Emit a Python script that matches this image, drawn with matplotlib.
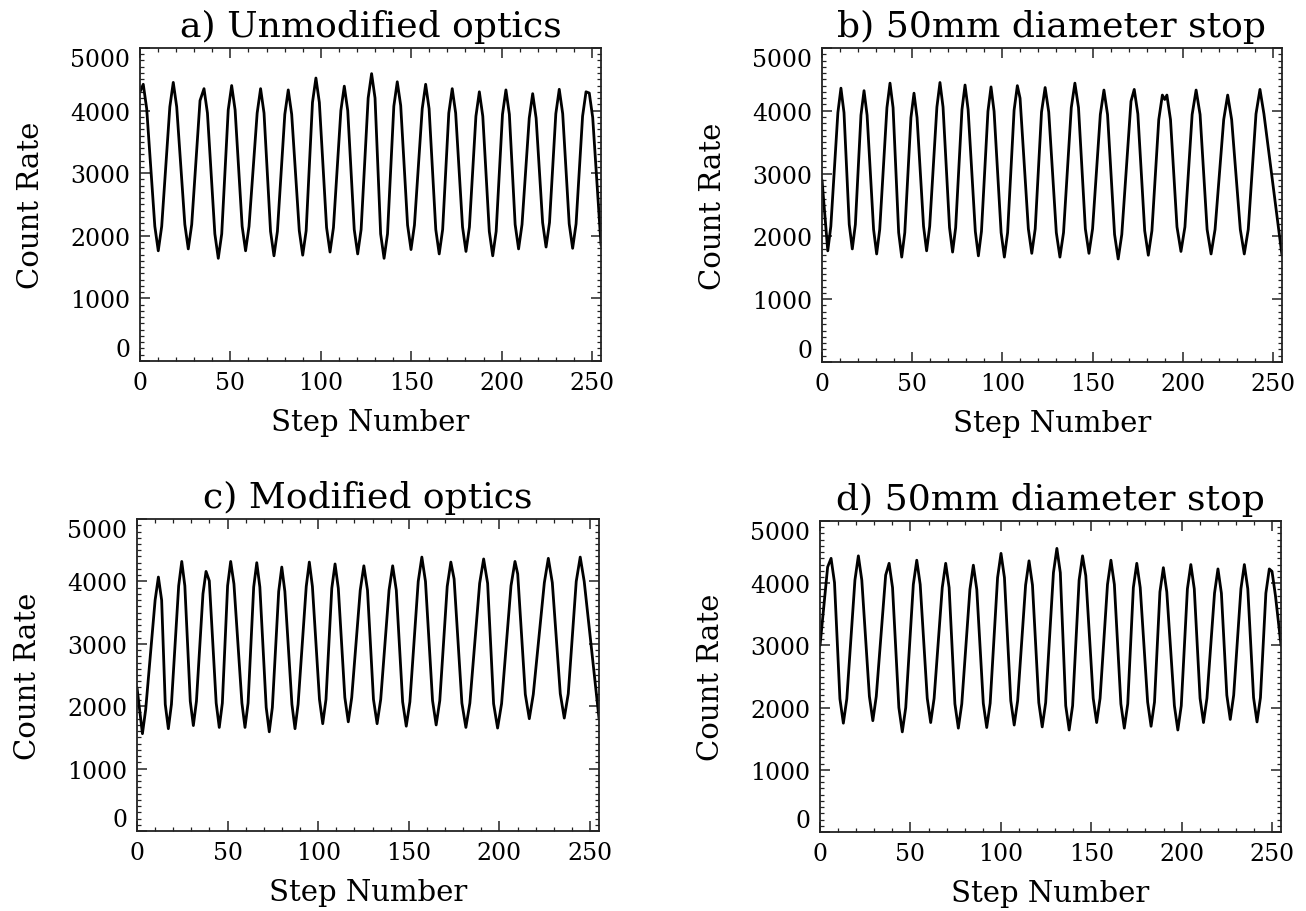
"""
Fringe scans: count rate vs. step number for four optics set-ups
"""
import matplotlib
matplotlib.use('Agg')
import matplotlib.pyplot as plt
from matplotlib.ticker import MultipleLocator

plt.rcParams['font.family'] = ['DejaVu Serif']

# values: extrema, shoulders and the flanks next to them
steps_a = [0, 1.8, 3.7, 8.2, 10.1, 12.0, 16.5, 18.4, 20.3, 24.8, 26.7, 28.6, 33.2, 35.4, 37.3,
           41.4, 43.3, 45.2, 48.8, 50.7, 52.6, 56.5, 58.4, 60.3, 64.8, 66.7, 68.6, 72.2, 74.1,
           76.0, 80.1, 82.0, 83.9, 88.1, 90.0, 91.9, 95.4, 97.3, 99.2, 103.2, 105.1, 107.0,
           111.1, 113.0, 114.9, 118.5, 120.4, 122.3, 126.2, 128.1, 130.0, 133.1, 135.0, 136.9,
           140.4, 142.3, 144.2, 148.0, 149.9, 151.8, 156.1, 158.0, 159.9, 163.6, 165.5, 167.4,
           170.8, 172.7, 174.6, 178.4, 180.3, 182.2, 185.8, 187.7, 189.6, 193.2, 195.1, 197.0,
           200.5, 202.4, 204.3, 207.5, 209.4, 211.3, 215.3, 217.2, 219.1, 222.7, 224.6, 226.5,
           230.0, 231.9, 233.8, 237.4, 239.3, 241.2, 244.8, 246.7, 248.5, 250.4, 255]
counts_a = [4300, 4420, 4030, 2150, 1760, 2150, 4060, 4450, 4060, 2180, 1790, 2180, 4160, 4350, 3960,
            2030, 1640, 2030, 4010, 4400, 4010, 2150, 1760, 2150, 3960, 4350, 3960, 2070, 1680,
            2070, 3940, 4330, 3940, 2080, 1690, 2080, 4130, 4520, 4130, 2130, 1740, 2130,
            4000, 4390, 4000, 2100, 1710, 2100, 4200, 4590, 4200, 2030, 1640, 2030,
            4070, 4460, 4080, 2170, 1780, 2170, 4030, 4420, 4030, 2100, 1710, 2100,
            3960, 4350, 3960, 2140, 1750, 2140, 3910, 4300, 3910, 2070, 1680, 2070,
            3940, 4330, 3940, 2180, 1790, 2180, 3880, 4270, 3880, 2210, 1820, 2210,
            3950, 4340, 3950, 2190, 1800, 2190, 3910, 4300, 4280, 3890, 1850]

steps_b = [0, 3.2, 4.9, 8.8, 10.5, 12.2, 15.1, 16.8, 18.5, 21.6, 23.3, 25.0, 28.6, 30.3, 32.0,
           36.0, 37.7, 39.4, 42.5, 44.2, 45.9, 49.3, 51.0, 52.7, 56.3, 58.0, 59.7, 63.7, 65.4,
           67.1, 70.7, 72.4, 74.1, 77.6, 79.3, 81.0, 85.0, 86.7, 88.4, 92.0, 93.7, 95.4,
           99.3, 101.1, 102.9, 106.5, 108.3, 109.8, 114.4, 116.3, 118.2, 121.7, 123.7, 125.7,
           129.9, 131.9, 133.9, 138.2, 140.2, 142.2, 146.0, 148.0, 150.0, 154.3, 156.3, 158.3,
           162.2, 164.2, 166.2, 171.3, 173.1, 175.1, 178.9, 180.9, 182.9, 186.7, 188.7, 190.0,
           191.2, 193.2, 196.8, 199.0, 201.2, 205.2, 207.4, 209.6, 213.5, 215.7, 217.9,
           222.7, 224.9, 227.1, 231.9, 234.1, 236.3, 240.6, 242.8, 245.0, 255]
counts_b = [2900, 1770, 2160, 3970, 4360, 3970, 2190, 1800, 2190, 3930, 4320, 3930, 2110, 1720, 2110,
            4050, 4440, 4050, 2060, 1670, 2060, 3890, 4280, 3890, 2160, 1770, 2160, 4060, 4450,
            4060, 2140, 1750, 2140, 4020, 4410, 4020, 2080, 1690, 2080, 3990, 4380, 3990,
            2060, 1670, 2060, 4010, 4400, 4200, 2120, 1730, 2120, 3980, 4370, 3980,
            2060, 1670, 2060, 4050, 4440, 4050, 2120, 1730, 2120, 3940, 4330, 3940,
            2030, 1640, 2030, 4150, 4340, 3950, 2090, 1700, 2090, 3860, 4250, 4180,
            4250, 3860, 2150, 1760, 2150, 3940, 4330, 3940, 2110, 1720, 2110,
            3860, 4250, 3860, 2110, 1720, 2110, 3950, 4340, 3950, 1700]

steps_c = [0, 3.0, 4.8, 10.0, 11.8, 13.6, 15.6, 17.3, 19.0, 23.0, 24.7, 26.4, 29.4, 31.1, 32.8,
           36.4, 38.1, 39.9, 43.7, 45.4, 47.1, 50.0, 51.7, 53.5, 57.9, 59.6, 61.3, 64.4, 66.1,
           67.8, 71.3, 73.0, 74.7, 78.2, 79.9, 81.6, 85.5, 87.2, 88.9, 93.4, 95.1, 96.8,
           100.7, 102.5, 104.3, 107.5, 109.3, 111.1, 114.7, 116.6, 118.5, 123.2, 125.2, 127.2,
           130.5, 132.5, 134.5, 139.1, 141.1, 143.1, 146.6, 148.6, 150.6, 155.2, 157.2, 159.2,
           163.1, 165.1, 167.1, 171.2, 173.2, 175.0, 179.3, 181.5, 183.7, 189.1, 191.3, 193.5,
           196.8, 199.0, 201.2, 206.4, 208.6, 210.1, 214.3, 216.5, 218.7, 224.8, 227.0, 229.2,
           233.6, 235.8, 238.0, 242.4, 244.6, 246.8, 255]
counts_c = [2300, 1560, 1950, 3700, 4070, 3700, 2030, 1640, 2030, 3930, 4320, 3930, 2080, 1690, 2080,
            3800, 4160, 4010, 2050, 1660, 2050, 3930, 4320, 3960, 2050, 1660, 2050, 3910, 4300,
            3910, 1980, 1590, 1980, 3840, 4230, 3840, 2030, 1640, 2030, 3920, 4310, 3920,
            2110, 1720, 2110, 3890, 4280, 3890, 2140, 1750, 2140, 3860, 4250, 3860,
            2110, 1720, 2110, 3860, 4250, 3860, 2070, 1680, 2070, 4000, 4390, 4000,
            2090, 1700, 2090, 3920, 4310, 4040, 2050, 1660, 2050, 3970, 4360, 3970,
            2040, 1650, 2040, 3930, 4320, 4120, 2190, 1800, 2190, 3980, 4370, 3980,
            2200, 1810, 2200, 4000, 4390, 4000, 1800]

steps_d = [0, 4.2, 6.1, 8.0, 11.0, 12.9, 14.8, 19.3, 21.2, 23.1, 27.3, 29.2, 31.1, 36.3, 38.2,
           40.1, 43.6, 45.5, 47.4, 51.6, 53.5, 55.4, 59.3, 61.2, 63.1, 67.6, 69.5, 71.4, 74.6,
           76.5, 78.4, 82.9, 84.8, 86.7, 90.3, 92.2, 94.1, 98.2, 100.1, 102.0, 105.5, 107.4,
           109.3, 113.7, 115.6, 117.5, 121.0, 122.9, 124.8, 129.1, 131.0, 132.9, 135.9, 137.8,
           139.7, 143.3, 145.2, 147.0, 151.1, 153.0, 154.9, 159.0, 160.9, 162.8, 166.4, 168.3,
           170.2, 173.3, 175.2, 177.1, 181.2, 183.1, 185.0, 188.0, 189.9, 191.8, 196.0, 197.9,
           199.8, 203.2, 205.1, 207.0, 210.2, 212.1, 214.0, 218.2, 220.1, 222.0, 225.0, 226.9,
           228.8, 232.8, 234.7, 236.6, 239.8, 241.7, 243.6, 246.6, 248.5, 250.0, 251.9, 255]
counts_d = [3000, 4260, 4400, 4010, 2140, 1750, 2140, 4050, 4440, 4050, 2180, 1790, 2180, 4130, 4320,
            3930, 2000, 1610, 2000, 3980, 4370, 3980, 2150, 1760, 2150, 3930, 4320, 3930, 2060,
            1670, 2060, 3900, 4290, 3900, 2070, 1680, 2070, 4090, 4480, 4090, 2110, 1720,
            2110, 3970, 4360, 3970, 2080, 1690, 2080, 4170, 4560, 4170, 2030, 1640,
            2030, 4050, 4440, 4120, 2150, 1760, 2150, 3980, 4370, 3980, 2060, 1670,
            2060, 3930, 4320, 3930, 2090, 1700, 2090, 3860, 4250, 3860, 2030, 1640,
            2030, 3910, 4300, 3910, 2150, 1760, 2150, 3840, 4230, 3840, 2200, 1810,
            2200, 3910, 4300, 3910, 2160, 1770, 2160, 3840, 4230, 4190, 3800, 3000]

titles = ['a) Unmodified optics', 'b) 50mm diameter stop',
          'c) Modified optics', 'd) 50mm diameter stop']

# axes boxes in figure fractions (left, bottom, width, height)
rects = [[0.1072, 0.6031, 0.3530, 0.3432],
         [0.6294, 0.6020, 0.3522, 0.3443],
         [0.1049, 0.0877, 0.3538, 0.3421],
         [0.6279, 0.0866, 0.3530, 0.3410]]

fig = plt.figure(figsize=(13.06, 9.12), dpi=100)

for steps, counts, title, rect in zip([steps_a, steps_b, steps_c, steps_d],
                                      [counts_a, counts_b, counts_c, counts_d],
                                      titles, rects):
    ax = fig.add_axes(rect)
    ax.plot(steps, counts, color='black', linewidth=2.0,
            solid_joinstyle='round', solid_capstyle='round')

    ax.set_xlim(0, 255)
    ax.set_ylim(0, 5000)
    ax.set_xticks(range(0, 251, 50))
    ax.set_yticks(range(0, 5001, 1000))
    ax.xaxis.set_minor_locator(MultipleLocator(10))
    ax.yaxis.set_minor_locator(MultipleLocator(100))
    ax.tick_params(which='both', direction='in', top=True, right=True,
                   labelsize=17, pad=7, color='#222222')
    ax.tick_params(which='major', length=7, width=1.1)
    ax.tick_params(which='minor', length=3, width=0.9)
    for sp in ax.spines.values():
        sp.set_linewidth(1.3)
        sp.set_color('#222222')

    # end labels sit inside the axis range, like the original
    yt = ax.yaxis.get_major_ticks()
    yt[0].label1.set_verticalalignment('bottom')
    yt[-1].label1.set_verticalalignment('top')

    ax.set_xlabel('Step Number', fontsize=21, labelpad=10)
    ax.set_ylabel('Count Rate', fontsize=21, labelpad=18)
    ax.set_title(title, fontsize=26, pad=8.5)

plt.savefig('out.png', dpi=100)
